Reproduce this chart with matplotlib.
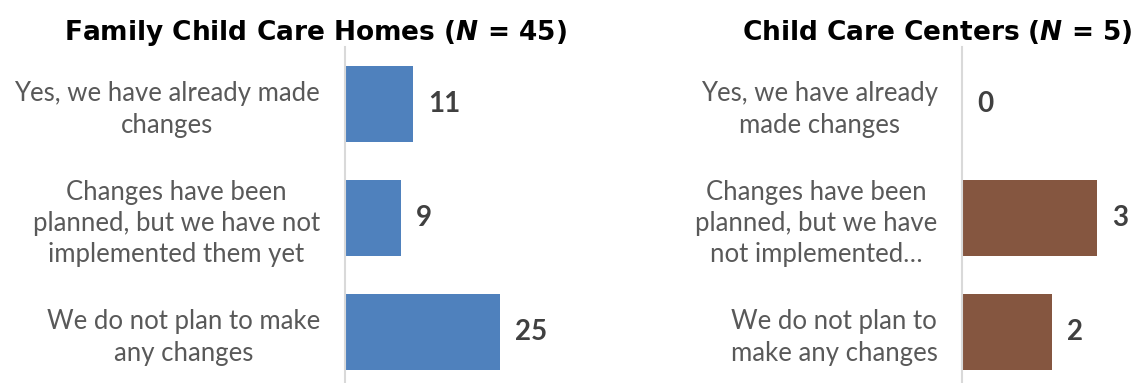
import matplotlib
matplotlib.use("Agg")
import matplotlib.pyplot as plt

# Survey responses: plans to change practices
fcch_labels = ["Yes, we have already made\nchanges",
               "Changes have been\nplanned, but we have not\nimplemented them yet",
               "We do not plan to make\nany changes"]
fcch_values = [11, 9, 25]

ccc_labels = ["Yes, we have already\nmade changes",
              "Changes have been\nplanned, but we have\nnot implemented\u2026",
              "We do not plan to\nmake any changes"]
ccc_values = [0, 3, 2]

fcch_title = "Family Child Care Homes ($N$ = 45)"
ccc_title = "Child Care Centers ($N$ = 5)"

plt.rcParams["mathtext.fontset"] = "custom"
plt.rcParams["mathtext.it"] = "DejaVu Sans:italic:bold"
plt.rcParams["mathtext.rm"] = "DejaVu Sans:bold"

W, H = 1139, 383
fig = plt.figure(figsize=(W / 100, H / 100), dpi=100)

LABEL_FONT = "Lato"
GRAY = "#595959"
DARK = "#404040"
AXIS = "#D9D9D9"


def px_axes(x0, x1, y_top, y_bot):
    return fig.add_axes([x0 / W, (H - y_bot) / H, (x1 - x0) / W, (y_bot - y_top) / H])


def panel(ax, labels, values, color, xmax, pad):
    y = list(range(len(values)))
    ax.barh(y, values, height=0.667, color=color)
    ax.set_ylim(len(values) - 0.5, -0.5)
    ax.set_xlim(0, xmax)
    for s in ["top", "right", "bottom"]:
        ax.spines[s].set_visible(False)
    ax.spines["left"].set_color(AXIS)
    ax.spines["left"].set_linewidth(1.5)
    ax.set_xticks([])
    ax.set_yticks(y)
    ax.set_yticklabels(labels, fontsize=18.5, color=GRAY, family=LABEL_FONT,
                       multialignment="center", linespacing=1.3)
    ax.tick_params(axis="y", length=0, pad=pad)
    ax.patch.set_visible(False)
    for yi, v in zip(y, values):
        ax.annotate(str(v), (v, yi), xytext=(15, 0), textcoords="offset pixels",
                    ha="left", va="center", fontsize=20, fontweight="bold",
                    color=DARK, family=LABEL_FONT)


ax1 = px_axes(345, 560, 47, 389)
panel(ax1, fcch_labels, fcch_values, "#4F81BD", 215 / 6.2, 18)

ax2 = px_axes(962, 1135, 47, 389)
panel(ax2, ccc_labels, ccc_values, "#855640", 173 / 45.0, 17.5)

fig.text(315.5 / W, 1 - 40 / H, fcch_title, ha="center", va="baseline",
         fontsize=19, fontweight="bold", color="black", family="DejaVu Sans")
fig.text(937 / W, 1 - 40 / H, ccc_title, ha="center", va="baseline",
         fontsize=19, fontweight="bold", color="black", family="DejaVu Sans")

fig.savefig("out.png", dpi=100)
